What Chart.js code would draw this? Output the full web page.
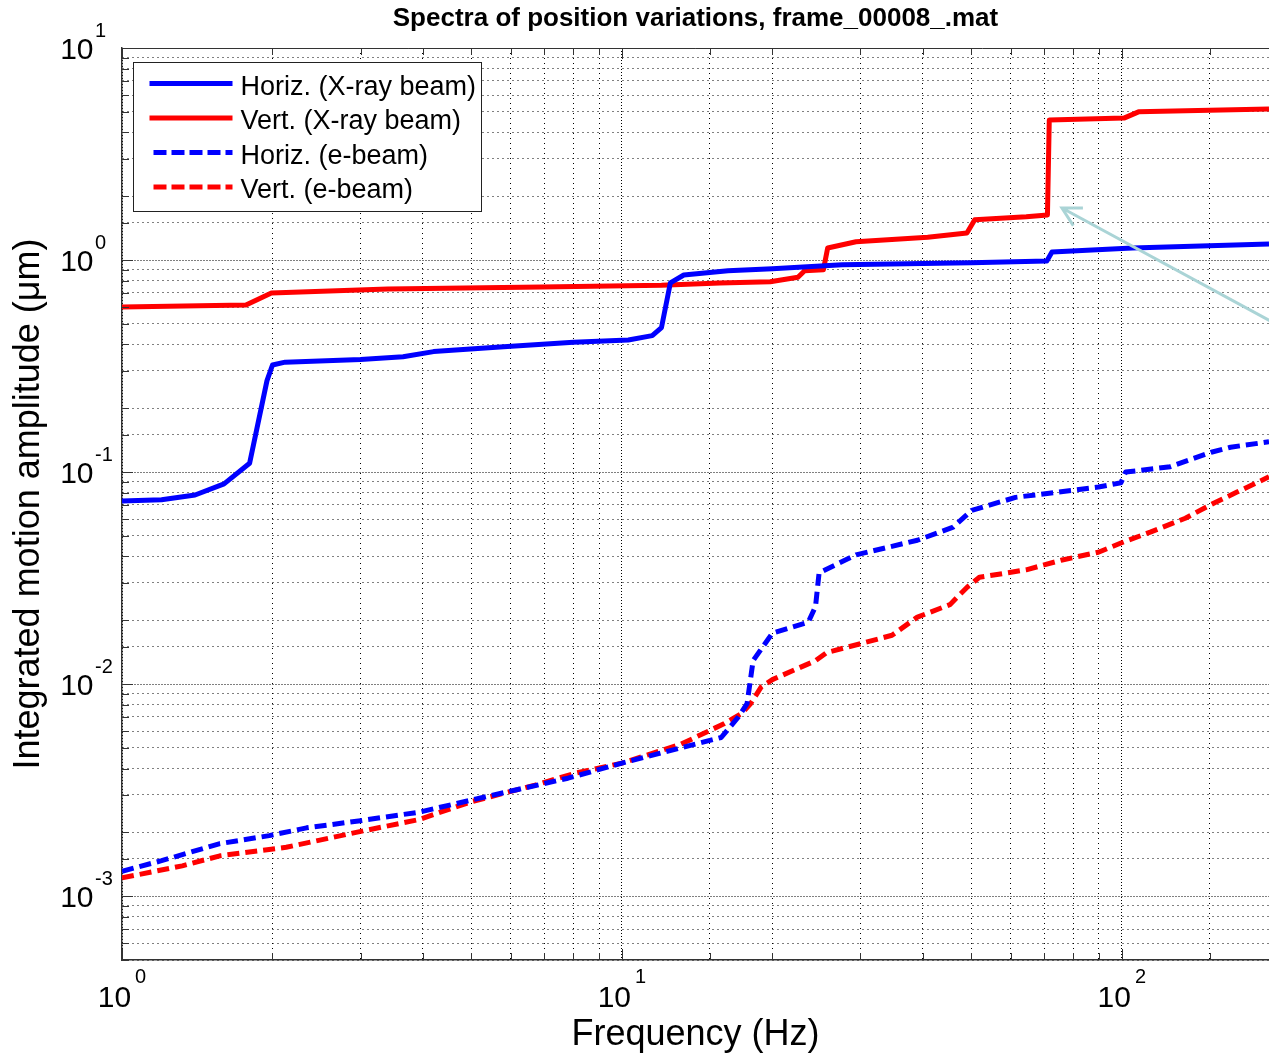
<!DOCTYPE html>
<html lang="en">
<head>
<meta charset="UTF-8">
<title>Spectra of position variations</title>
<style>
  html, body {
    margin: 0;
    padding: 0;
    background: #fff;
    overflow: hidden;
  }
  #wrap {
    width: 1269px;
    height: 1059px;
  }
</style>
</head>
<body>
<div id="wrap"><canvas id="spectra" width="1269" height="1059"></canvas></div>

<script src="https://cdn.jsdelivr.net/npm/chart.js"></script>
<script>
// values: frequency in Hz, amplitude in um

// Horiz. (X-ray beam)
const hxFreq = [1, 1.2, 1.4, 1.6, 1.8, 1.95, 2.0, 2.12, 3.0, 3.65, 4.2, 5.8, 8, 10.3, 11.5, 12.0, 12.5, 13.3, 16.3, 20, 27.6, 50, 70.8, 72.5, 105, 197];
const hxAmp  = [0.073, 0.074, 0.078, 0.088, 0.11, 0.27, 0.32, 0.33, 0.34, 0.35, 0.37, 0.39, 0.41, 0.42, 0.44, 0.48, 0.78, 0.85, 0.89, 0.91, 0.95, 0.97, 0.99, 1.09, 1.14, 1.19];

// Vert. (X-ray beam)
const vxFreq = [1, 1.77, 1.99, 3.4, 6.9, 12, 15.7, 19.8, 22.5, 23.2, 25.3, 25.8, 29.4, 40.9, 49, 50.8, 64.4, 71.0, 71.6, 101, 108, 197];
const vxAmp  = [0.60, 0.613, 0.70, 0.73, 0.746, 0.76, 0.78, 0.79, 0.83, 0.89, 0.90, 1.14, 1.22, 1.28, 1.34, 1.55, 1.60, 1.63, 4.57, 4.67, 5.0, 5.15];

// Horiz. (e-beam)
const heFreq = [1, 1.2, 1.57, 1.97, 2.34, 3.0, 3.93, 5.0, 6.1, 7.8, 10, 13.1, 15.8, 17.1, 17.8, 18.3, 20.0, 23.6, 24.4, 24.8, 29.4, 39, 46, 50.1, 61.3, 89.8, 99.6, 101.8, 125, 151, 165, 197];
const heAmp  = [0.00131, 0.00147, 0.00177, 0.00193, 0.0021, 0.00227, 0.00249, 0.00284, 0.00316, 0.0036, 0.00424, 0.005, 0.0056, 0.007, 0.0081, 0.0129, 0.0174, 0.0196, 0.0233, 0.0335, 0.0407, 0.0477, 0.055, 0.066, 0.076, 0.085, 0.089, 0.1, 0.106, 0.124, 0.131, 0.139];

// Vert. (e-beam)
const veFreq = [1, 1.32, 1.57, 2.13, 2.94, 3.93, 5.0, 6.7, 8.1, 10, 13.1, 16, 17.4, 18.1, 19.0, 20, 24.4, 25.7, 30.3, 34.7, 39, 45.3, 49.1, 51.9, 64.4, 76, 89.8, 99.6, 114, 134, 153, 170, 197];
const veAmp  = [0.00122, 0.00139, 0.00155, 0.0017, 0.002, 0.0023, 0.00279, 0.00334, 0.00381, 0.00424, 0.0052, 0.0065, 0.0073, 0.0081, 0.0097, 0.0105, 0.0129, 0.0141, 0.0156, 0.017, 0.0207, 0.0237, 0.0287, 0.0319, 0.0346, 0.0385, 0.0419, 0.0463, 0.0521, 0.0606, 0.0715, 0.0805, 0.095];

const seriesLabels = ['Horiz. (X-ray beam)', 'Vert. (X-ray beam)', 'Horiz. (e-beam)', 'Vert. (e-beam)'];

// axis limits and decade tick labels (shown as 10 with a raised exponent)
const xMin = 1, xMax = 197;
const yMin = 5e-4, yMax = 10;
const xDecades = [1, 10, 100];
const xTickExp = ['0', '1', '2'];
const yDecades = [1e-3, 1e-2, 1e-1, 1, 10];
const yTickExp = ['-3', '-2', '-1', '0', '1'];

// the pale arrow pointing at the 70 Hz step (tip, tail) in data units
const arrowTip = [75.9, 1.76];
const arrowTail = [197, 0.52];

const FONT = '"Liberation Sans", Arial, Helvetica, sans-serif';

function pts(xs, ys) {
    return xs.map((x, i) => ({ x: x, y: ys[i] }));
}

function isDecade(v) {
    const l = Math.log10(v);
    return Math.abs(l - Math.round(l)) < 1e-6;
}

// MATLAB style: ticks pointing inwards, top border, decade labels, legend box, arrow
const matlabAxes = {
    id: 'matlabAxes',
    afterDatasetsDraw(chart) {
        const ctx = chart.ctx;
        const area = chart.chartArea;
        const xs = chart.scales.x;
        const ys = chart.scales.y;

        ctx.save();
        ctx.strokeStyle = '#333';
        ctx.lineWidth = 1;

        // top border
        ctx.beginPath();
        ctx.moveTo(area.left, area.top + 0.5);
        ctx.lineTo(area.right, area.top + 0.5);
        ctx.stroke();

        // tick marks
        ctx.beginPath();
        ys.ticks.forEach(t => {
            const py = Math.round(ys.getPixelForValue(t.value)) + 0.5;
            const len = isDecade(t.value) ? 11 : 7;
            ctx.moveTo(area.left, py);
            ctx.lineTo(area.left + len, py);
        });
        xs.ticks.forEach(t => {
            const px = Math.round(xs.getPixelForValue(t.value)) + 0.5;
            const len = isDecade(t.value) ? 11 : 7;
            ctx.moveTo(px, area.bottom);
            ctx.lineTo(px, area.bottom - len);
            ctx.moveTo(px, area.top);
            ctx.lineTo(px, area.top + len);
        });
        ctx.stroke();

        // pale arrow
        const tx = xs.getPixelForValue(arrowTip[0]);
        const ty = ys.getPixelForValue(arrowTip[1]);
        const sx = xs.getPixelForValue(arrowTail[0]);
        const sy = ys.getPixelForValue(arrowTail[1]);
        const ang = Math.atan2(sy - ty, sx - tx);
        ctx.strokeStyle = 'rgb(170, 212, 214)';
        ctx.lineWidth = 3;
        ctx.beginPath();
        ctx.moveTo(sx + 20 * Math.cos(ang), sy + 20 * Math.sin(ang));
        ctx.lineTo(tx, ty);
        ctx.moveTo(tx + 21 * Math.cos(ang - 0.5), ty + 21 * Math.sin(ang - 0.5));
        ctx.lineTo(tx, ty);
        ctx.lineTo(tx + 21 * Math.cos(ang + 0.5), ty + 21 * Math.sin(ang + 0.5));
        ctx.stroke();
        ctx.restore();
    },
    afterDraw(chart) {
        const ctx = chart.ctx;
        const area = chart.chartArea;
        const xs = chart.scales.x;
        const ys = chart.scales.y;

        ctx.save();
        ctx.fillStyle = '#000';
        ctx.textBaseline = 'alphabetic';

        // y decade labels
        yDecades.forEach((v, i) => {
            const py = ys.getPixelForValue(v);
            ctx.font = '30px ' + FONT;
            ctx.textAlign = 'right';
            ctx.fillText('10', area.left - 28.5, py + 11);
            ctx.font = '20px ' + FONT;
            ctx.textAlign = 'left';
            ctx.fillText(yTickExp[i], area.left - 27, py - 11);
        });

        // x decade labels
        xDecades.forEach((v, i) => {
            const px = xs.getPixelForValue(v);
            ctx.font = '30px ' + FONT;
            const w10 = ctx.measureText('10').width;
            ctx.font = '20px ' + FONT;
            const wExp = ctx.measureText(xTickExp[i]).width;
            const start = px - (w10 + 4 + wExp) / 2;
            ctx.textAlign = 'left';
            ctx.font = '30px ' + FONT;
            ctx.fillText('10', start, area.bottom + 47);
            ctx.font = '20px ' + FONT;
            ctx.fillText(xTickExp[i], start + w10 + 4, area.bottom + 23);
        });

        // legend box in the upper left corner
        const bx = area.left + 11.5, by = area.top + 14.5, bw = 348, bh = 149;
        ctx.fillStyle = '#fff';
        ctx.fillRect(bx, by, bw, bh);
        ctx.strokeStyle = '#222';
        ctx.lineWidth = 1;
        ctx.strokeRect(bx, by, bw, bh);

        chart.data.datasets.forEach((ds, i) => {
            const ly = by + 21 + i * 34.5;
            ctx.save();
            ctx.strokeStyle = ds.borderColor;
            ctx.lineWidth = 5;
            ctx.setLineDash(ds.borderDash ? [13, 5] : []);
            ctx.beginPath();
            ctx.moveTo(bx + (ds.borderDash ? 20 : 16), ly);
            ctx.lineTo(bx + 99, ly);
            ctx.stroke();
            ctx.restore();

            ctx.fillStyle = '#000';
            ctx.font = '27px ' + FONT;
            ctx.textAlign = 'left';
            ctx.fillText(ds.label, bx + 107, ly + 11);
        });
        ctx.restore();
    }
};

const gridColor = '#000';
const gridDash = c => (c.tick && isDecade(c.tick.value)) ? [1, 2] : [1, 4];

const chart = new Chart(document.getElementById('spectra').getContext('2d'), {
    type: 'line',
    data: {
        datasets: [
            {
                label: seriesLabels[0],
                data: pts(hxFreq, hxAmp),
                borderColor: '#0000ff',
                borderWidth: 5
            },
            {
                label: seriesLabels[1],
                data: pts(vxFreq, vxAmp),
                borderColor: '#ff0000',
                borderWidth: 5
            },
            {
                label: seriesLabels[2],
                data: pts(heFreq, heAmp),
                borderColor: '#0000ff',
                borderWidth: 5,
                borderDash: [12, 6]
            },
            {
                label: seriesLabels[3],
                data: pts(veFreq, veAmp),
                borderColor: '#ff0000',
                borderWidth: 5,
                borderDash: [12, 6]
            }
        ]
    },
    options: {
        responsive: false,
        animation: false,
        events: [],
        elements: {
            point: { radius: 0 },
            line: { tension: 0, borderJoinStyle: 'round', fill: false }
        },
        layout: { padding: 0 },
        plugins: {
            legend: { display: false },
            tooltip: { enabled: false },
            title: {
                display: true,
                text: 'Spectra of position variations, frame_00008_.mat',
                fullSize: false,
                color: '#000',
                font: { family: FONT, size: 26, weight: 'bold' },
                padding: { top: 3, bottom: 13.8 }
            }
        },
        scales: {
            x: {
                type: 'logarithmic',
                min: xMin,
                max: xMax,
                ticks: { display: false },
                grid: { color: gridColor, lineWidth: 1, drawTicks: false },
                border: { display: true, color: '#333', width: 1.5, dash: gridDash },
                title: {
                    display: true,
                    text: 'Frequency (Hz)',
                    color: '#000',
                    font: { family: FONT, size: 36 },
                    padding: { top: 0, bottom: 2 }
                },
                afterFit: s => { s.height = 99; }
            },
            y: {
                type: 'logarithmic',
                min: yMin,
                max: yMax,
                ticks: { display: false },
                grid: { color: gridColor, lineWidth: 1, drawTicks: false },
                border: { display: true, color: '#333', width: 1.5, dash: gridDash },
                title: {
                    display: true,
                    text: 'Integrated motion amplitude (\u03bcm)',
                    color: '#000',
                    font: { family: FONT, size: 36 },
                    padding: { top: 7, bottom: 0 }
                },
                afterFit: s => { s.width = 122; }
            }
        }
    },
    plugins: [matlabAxes]
});
</script>
</body>
</html>
